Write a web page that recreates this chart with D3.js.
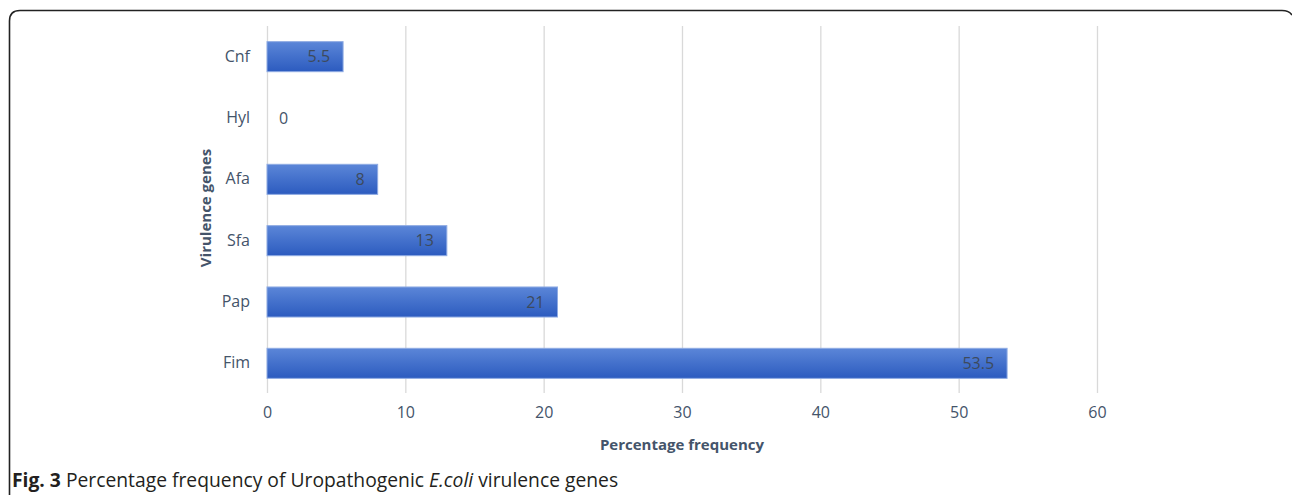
<!DOCTYPE html>
<html><head><meta charset="utf-8">
<script src="https://cdn.jsdelivr.net/npm/d3@7"></script>
<style>body{margin:0;background:#fff;}svg{display:block;}</style>
</head><body>
<svg id="c" width="1292" height="495"></svg>
<script>
const categories = ["Cnf","Hyl","Afa","Sfa","Pap","Fim"];
const values = [5.5, 0, 8, 13, 21, 53.5];
const xTicks = [0,10,20,30,40,50,60];

const svg = d3.select("#c");
const font = "'Open Sans', sans-serif";
const txt = "#44546a";

// border frame
svg.append("path")
  .attr("d","M9.5,495 L9.5,21 Q9.5,10.5 20,10.5 L1282,10.5 Q1289,10.5 1292,15")
  .attr("fill","none").attr("stroke","#222").attr("stroke-width",1.6);

const defs = svg.append("defs");
const g = defs.append("linearGradient").attr("id","bg").attr("x1",0).attr("y1",0).attr("x2",0).attr("y2",1);
g.append("stop").attr("offset","0%").attr("stop-color","#5b86d8");
g.append("stop").attr("offset","100%").attr("stop-color","#2c5bbf");

const x = d3.scaleLinear().domain([0,60]).range([267,1097]);
const y = d3.scaleBand().domain(categories).range([26,394]).paddingInner(0.51).paddingOuter(0.255);

// gridlines
svg.append("g").selectAll("line").data(xTicks).join("line")
  .attr("x1",d=>x(d)+0.5).attr("x2",d=>x(d)+0.5).attr("y1",26).attr("y2",393)
  .attr("stroke","#d9d9d9").attr("stroke-width",1.3);

// x axis
const xa = svg.append("g").attr("transform","translate(0,404)")
  .call(d3.axisBottom(x).tickValues(xTicks).tickSize(0).tickPadding(3));
xa.select(".domain").remove();
xa.selectAll("text").attr("font-family",font).attr("font-size",16).attr("fill",txt);

// y axis
const ya = svg.append("g").attr("transform","translate(252,0)")
  .call(d3.axisLeft(y).tickSize(0).tickPadding(2));
ya.select(".domain").remove();
ya.selectAll("text").attr("font-family",font).attr("font-size",16).attr("fill",txt);

// bars
svg.append("g").selectAll("rect").data(values).join("rect")
  .attr("x",x(0)).attr("y",(d,i)=>y(categories[i]))
  .attr("width",d=>x(d)-x(0)).attr("height",y.bandwidth())
  .attr("fill","url(#bg)").attr("stroke",d=>d>0?"#8fabe3":"none").attr("stroke-width",1);

// labels
svg.append("g").selectAll("text").data(values).join("text")
  .attr("x",d=>d>0? x(d)-13 : x(0)+12)
  .attr("y",(d,i)=>y(categories[i])+y.bandwidth()/2)
  .attr("dy","0.35em")
  .attr("text-anchor",d=>d>0?"end":"start")
  .attr("font-family",font).attr("font-size",16).attr("fill",d=>d>0?"#3d4a5c":txt)
  .text(d=>d);

// axis titles
svg.append("text").attr("x",x(30)).attr("y",450).attr("text-anchor","middle")
  .attr("font-family",font).attr("font-size",15).attr("font-weight","bold").attr("fill",txt)
  .text("Percentage frequency");
svg.append("text").attr("transform","translate(211,208) rotate(-90)").attr("text-anchor","middle")
  .attr("font-family",font).attr("font-size",15).attr("font-weight","bold").attr("fill",txt)
  .text("Virulence genes");

// caption
const cap = svg.append("text").attr("x",12).attr("y",487).attr("font-family",font).attr("font-size",19.3).attr("fill","#231f20");
cap.append("tspan").attr("font-weight","bold").text("Fig. 3");
cap.append("tspan").text(" Percentage frequency of Uropathogenic ");
cap.append("tspan").attr("font-style","italic").text("E.coli");
cap.append("tspan").text(" virulence genes");
</script>
</body></html>
